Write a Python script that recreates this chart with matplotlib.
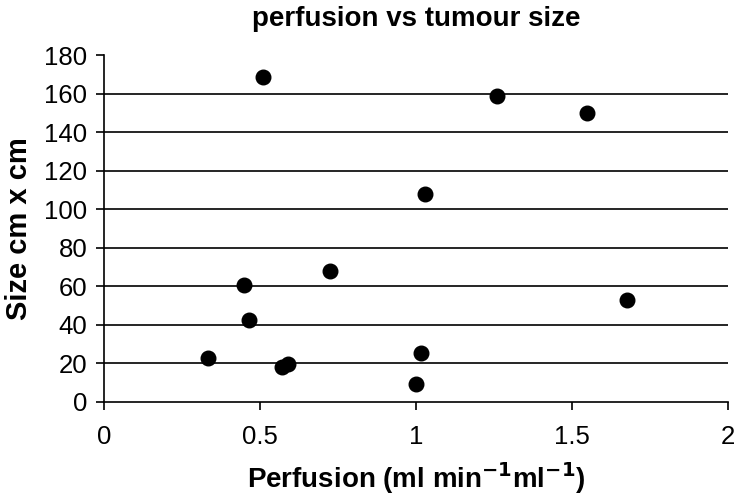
import matplotlib.pyplot as plt

# perfusion (ml/min/ml) and tumour size (cm x cm)
perfusion = [0.51, 1.26, 1.55, 1.03, 0.724, 0.449, 0.465, 1.677, 0.334, 0.570, 0.591, 1.015, 1.0]
size = [168.5, 159, 150, 108, 68, 60.4, 42.4, 53, 23, 18, 19.6, 25.3, 9.4]

x_ticks = [0, 0.5, 1, 1.5, 2]
y_ticks = list(range(0, 181, 20))

plt.rcParams['font.family'] = ['Liberation Sans', 'DejaVu Sans']

fig = plt.figure(figsize=(7.38, 5.01), dpi=100)
ax = fig.add_axes([0.141, 0.198, 0.845, 0.692])

# horizontal gridlines at each y tick (not at 0 or top)
for y in y_ticks[1:-1]:
    ax.axhline(y, color='black', linewidth=1.2, zorder=1)

ax.scatter(perfusion, size, s=110, color='black', zorder=3)

ax.set_xlim(0, 2)
ax.set_ylim(0, 180)
ax.set_xticks(x_ticks)
ax.set_xticklabels(['0', '0.5', '1', '1.5', '2'])
ax.set_yticks(y_ticks)

ax.spines['top'].set_visible(False)
ax.spines['right'].set_visible(False)
ax.spines['left'].set_linewidth(1.2)
ax.spines['bottom'].set_linewidth(1.2)
ax.tick_params(axis='both', labelsize=18.5, length=6, width=1.2, direction='out')
ax.tick_params(axis='x', pad=11)
ax.tick_params(axis='y', pad=6)

ax.set_title('perfusion vs tumour size', fontsize=20, fontweight='bold', pad=21)
ax.set_xlabel('Perfusion (ml min$^{\\mathbf{-1}}$ml$^{\\mathbf{-1}}$)', fontsize=20, fontweight='bold', labelpad=8)
ax.set_ylabel('Size cm x cm', fontsize=21, fontweight='bold', labelpad=8)

plt.savefig('out.png', dpi=100)
plt.close()
